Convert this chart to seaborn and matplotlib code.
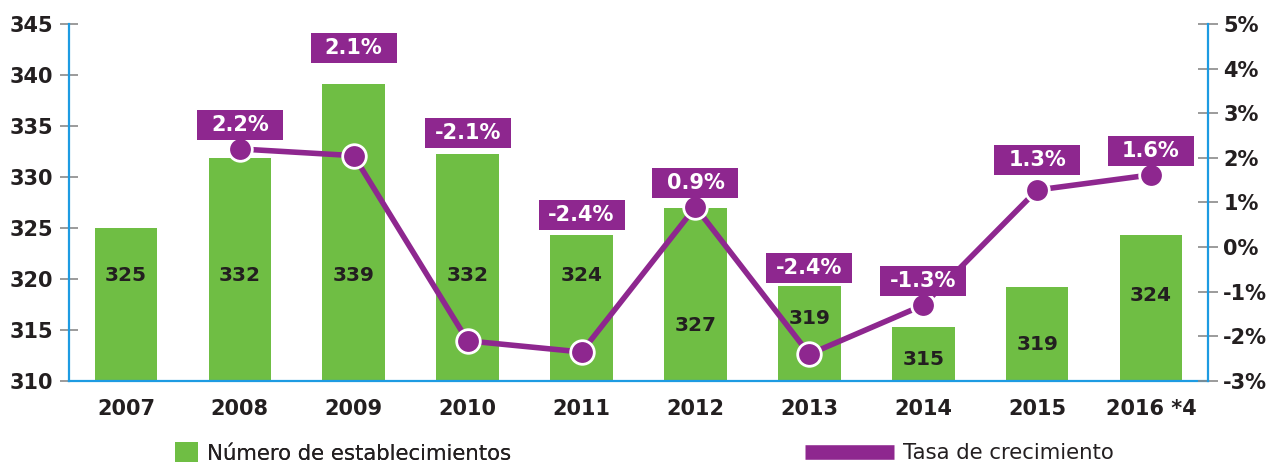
import numpy as np
import pandas as pd
import matplotlib
matplotlib.use("Agg")
import matplotlib.pyplot as plt
import seaborn as sns
from matplotlib.patches import Rectangle, Patch
from matplotlib.lines import Line2D
from matplotlib.ticker import FixedLocator, FuncFormatter

# ---- data ----
years = ["2007", "2008", "2009", "2010", "2011", "2012", "2013", "2014", "2015", "2016 *4"]
establecimientos = [325, 331.9, 339.1, 332.3, 324.3, 327, 319.3, 315.3, 319.2, 324.3]
bar_labels = ["325", "332", "339", "332", "324", "327", "319", "315", "319", "324"]
rate_years = years[1:]
tasa = [2.2, 2.05, -2.1, -2.35, 0.9, -2.4, -1.3, 1.28, 1.62]
rate_labels = ["2.2%", "2.1%", "-2.1%", "-2.4%", "0.9%", "-2.4%", "-1.3%", "1.3%", "1.6%"]

# ---- layout (label placement) ----
bar_label_y = [320.3, 320.3, 320.3, 320.3, 320.3, 315.4, 316.1, 312.1, 313.6, 318.4]
box_y = [2.74, 4.46, 2.56, 0.72, 1.44, -0.47, -0.76, 1.95, 2.15]

GREEN = "#6fbe44"
PURPLE = "#8e278f"
BLUE = "#1d9be2"
GRAY = "#8a8a8a"
DARK = "#231f20"

sns.set_style("white")
plt.rcParams["font.family"] = ["DejaVu Sans"]

fig = plt.figure(figsize=(12.75, 4.66), dpi=100)
ax = fig.add_axes([69/1275, 85/466, (1208-69)/1275, (381-24)/466])

df = pd.DataFrame({"year": years, "n": establecimientos})
sns.barplot(data=df, x="year", y="n", color=GREEN, width=0.55, ax=ax,
            saturation=1, edgecolor="none", zorder=2)
ax.set_ylim(310, 345)
ax.set_xlim(-0.5, len(years) - 0.5)
ax.set_xlabel("")
ax.set_ylabel("")

for i, (lab, y) in enumerate(zip(bar_labels, bar_label_y)):
    ax.text(i, y, lab, ha="center", va="center", fontsize=14.5,
            fontweight="bold", color=DARK, zorder=3)

ax2 = ax.twinx()
xr = np.arange(1, len(years))
sns.lineplot(x=xr, y=tasa, ax=ax2, color=PURPLE, linewidth=4,
             marker="o", markersize=17, markerfacecolor=PURPLE,
             markeredgecolor="white", markeredgewidth=2.0, zorder=4)
ax2.set_ylim(-3, 5)

bw, bh = 0.755, 0.672
for x, y, lab in zip(xr, box_y, rate_labels):
    ax2.add_patch(Rectangle((x - bw/2, y - bh/2), bw, bh, facecolor=PURPLE,
                            edgecolor="none", zorder=6))
    ax2.text(x, y, lab, ha="center", va="center", color="white",
             fontsize=15, fontweight="bold", zorder=7)

# spines
for a in (ax, ax2):
    a.spines["top"].set_visible(False)
    for s in ("left", "right", "bottom"):
        a.spines[s].set_color(BLUE)
        a.spines[s].set_linewidth(1.6)
ax.spines["right"].set_visible(False)
ax2.spines["left"].set_visible(False)
ax2.spines["bottom"].set_visible(False)

# ticks
ax.set_yticks(np.arange(310, 346, 5))
ax.tick_params(axis="y", direction="inout", length=13, width=1.2, color=GRAY,
               pad=5, labelsize=15, labelcolor=DARK)
for t in ax.get_yticklabels():
    t.set_fontweight("bold")
ax.set_xticks(range(len(years)))
ax.set_xticklabels(years, fontsize=15, fontweight="bold", color=DARK)
ax.tick_params(axis="x", which="major", length=0, pad=13)
ax.xaxis.set_minor_locator(FixedLocator(np.arange(0.5, len(years) - 1, 1)))
ax.tick_params(axis="x", which="minor", direction="inout", length=13,
               width=1.2, color=GRAY)

ax2.set_yticks(np.arange(-3, 6, 1))
ax2.yaxis.set_major_formatter(FuncFormatter(lambda v, p: f"{int(v)}%"))
ax2.tick_params(axis="y", direction="inout", length=14, width=1.2, color=GRAY,
                pad=4, labelsize=15, labelcolor=DARK)
for t in ax2.get_yticklabels():
    t.set_fontweight("bold")

ax.grid(False)
ax2.grid(False)

# legends
leg1 = fig.legend(handles=[Patch(facecolor=GREEN, edgecolor="none")],
                  labels=["Número de establecimientos"], loc="center left",
                  bbox_to_anchor=(156/1275, 1 - 453/466), frameon=False,
                  handlelength=1.08, handleheight=1.08, handletextpad=0.4,
                  fontsize=15.3, labelcolor=DARK)
leg2 = fig.legend(handles=[Line2D([0], [0], color=PURPLE, linewidth=10.5,
                                  solid_capstyle="butt")],
                  labels=["Tasa de crecimiento"], loc="center left",
                  bbox_to_anchor=(786/1275, 1 - 453/466), frameon=False,
                  handlelength=4.2, handletextpad=0.4,
                  fontsize=15.3, labelcolor=DARK)
fig.add_artist(leg1)

fig.savefig("out.png", dpi=100)
